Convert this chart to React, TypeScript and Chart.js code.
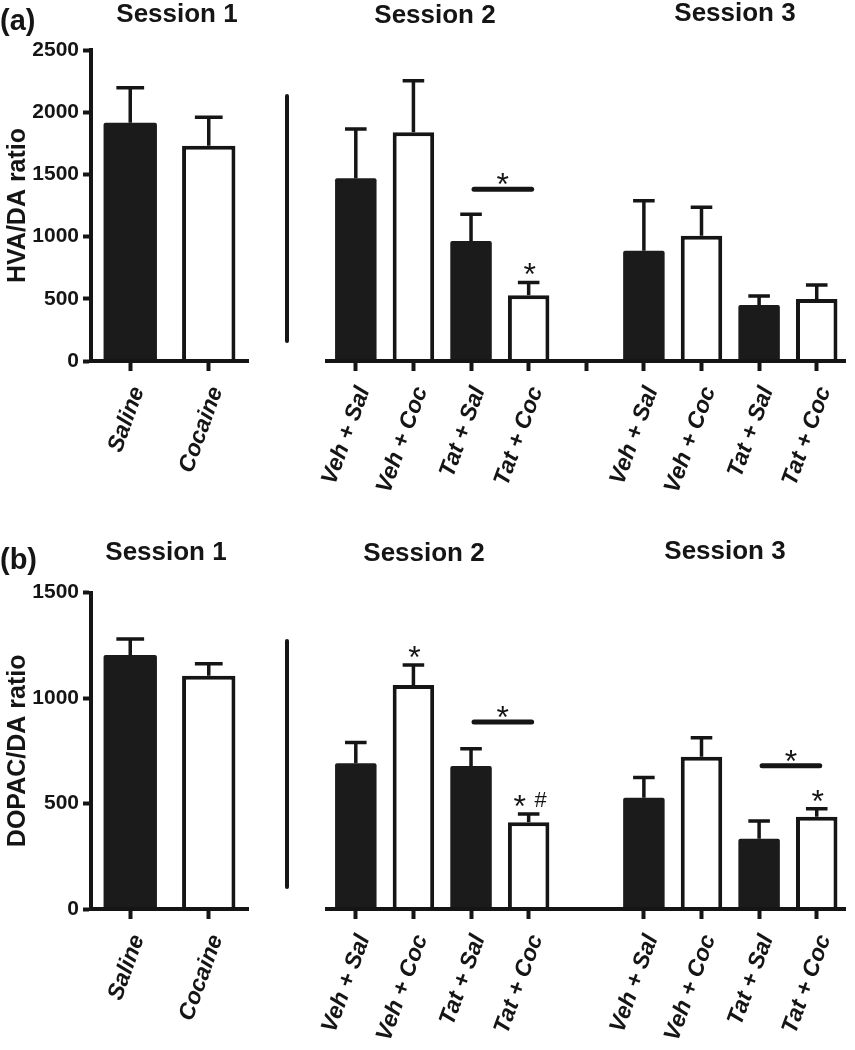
import React, { useEffect, useRef } from 'react';
import { Chart, registerables } from 'chart.js';

Chart.register(...registerables);

const FONT = '"Liberation Sans", Arial, Helvetica, sans-serif';
const INK = '#151515';
const DARK = '#1b1b1b';
const LIGHT = '#ffffff';

// ---------- data ----------
const session1Labels = ['Saline', 'Cocaine'];
const session23Labels = ['Veh + Sal', 'Veh + Coc', 'Tat + Sal', 'Tat + Coc', '', 'Veh + Sal', 'Veh + Coc', 'Tat + Sal', 'Tat + Coc'];

const hvaTicks = [0, 500, 1000, 1500, 2000, 2500];
const hvaS1Mean = [1916, 1731];
const hvaS1Sem = [281, 228];
const hvaS23Mean = [1469, 1838, 965, 528, null, 887, 1007, 450, 498];
const hvaS23Sem = [396, 415, 214, 104, null, 402, 228, 73, 113];
const hvaS23Marks = ['', '', '', '*', '', '', '', '', ''];
const hvaS23Brackets = [{ from: 2, to: 3, value: 1380, mark: '*' }];

const dopacTicks = [0, 500, 1000, 1500];
const dopacS1Mean = [1204, 1106];
const dopacS1Sem = [76, 57];
const dopacS23Mean = [691, 1062, 678, 411, null, 528, 722, 333, 438];
const dopacS23Sem = [99, 95, 82, 39, null, 96, 90, 84, 37];
const dopacS23Marks = ['', '*', '', '* #', '', '', '', '', '*'];
const dopacS23Brackets = [
  { from: 2, to: 3, value: 887, mark: '*' },
  { from: 7, to: 8, value: 679, mark: '*' },
];

// styles (fill per bar)
const session1Fill = [DARK, LIGHT];
const session23Fill = [DARK, LIGHT, DARK, LIGHT, LIGHT, DARK, LIGHT, DARK, LIGHT];

// ---------- helpers ----------
function drawGlyph(ctx: CanvasRenderingContext2D, t: string, cx: number, cy: number) {
  ctx.save();
  ctx.fillStyle = INK;
  ctx.textAlign = 'center';
  ctx.textBaseline = 'alphabetic';
  if (t === '*') {
    const fs = 32;
    ctx.font = `${fs}px ${FONT}`;
    ctx.fillText('*', cx, cy + 0.566 * fs);
  } else {
    const fs = 22;
    ctx.font = `${fs}px ${FONT}`;
    ctx.fillText(t, cx, cy + 0.35 * fs);
  }
  ctx.restore();
}

function drawMark(ctx: CanvasRenderingContext2D, text: string, cx: number, cy: number) {
  const parts = text.split(' ');
  if (parts.length === 1) {
    drawGlyph(ctx, parts[0], cx, cy);
  } else {
    drawGlyph(ctx, parts[0], cx - 10, cy);
    drawGlyph(ctx, parts[1], cx + 11, cy);
  }
}

const errorBarPlugin = {
  id: 'errorBars',
  afterDatasetsDraw(chart: any, _args: any, opts: any) {
    const ctx = chart.ctx as CanvasRenderingContext2D;
    const meta = chart.getDatasetMeta(0);
    const ys = chart.scales.y;
    const data = chart.data.datasets[0].data;
    const sems: (number | null)[] = opts.sems || [];
    meta.data.forEach((bar: any, i: number) => {
      const m = data[i];
      const s = sems[i];
      if (m == null || s == null) return;
      const p = bar.getProps(['x', 'y', 'width'], true);
      const yt = ys.getPixelForValue(m + s);
      const half = p.width * 0.26;
      ctx.save();
      ctx.strokeStyle = INK;
      ctx.lineWidth = 3.5;
      ctx.beginPath();
      ctx.moveTo(p.x, p.y);
      ctx.lineTo(p.x, yt);
      ctx.moveTo(p.x - half, yt);
      ctx.lineTo(p.x + half, yt);
      ctx.stroke();
      ctx.restore();
    });
  },
};

const sigPlugin = {
  id: 'sigMarks',
  afterDatasetsDraw(chart: any, _args: any, opts: any) {
    const ctx = chart.ctx as CanvasRenderingContext2D;
    const xs = chart.scales.x;
    const ys = chart.scales.y;
    const data = chart.data.datasets[0].data;
    const sems: (number | null)[] = opts.sems || [];
    const marks: string[] = opts.marks || [];
    const brackets: any[] = opts.brackets || [];
    brackets.forEach((b) => {
      const x1 = xs.getPixelForValue(b.from) + 3;
      const x2 = xs.getPixelForValue(b.to) + 3;
      const yy = ys.getPixelForValue(b.value);
      ctx.save();
      ctx.strokeStyle = INK;
      ctx.lineWidth = 5;
      ctx.lineCap = 'round';
      ctx.beginPath();
      ctx.moveTo(x1, yy);
      ctx.lineTo(x2, yy);
      ctx.stroke();
      ctx.restore();
      drawMark(ctx, b.mark, (x1 + x2) / 2, yy - 12);
    });
    marks.forEach((t, i) => {
      if (!t) return;
      const m = data[i];
      const s = sems[i] || 0;
      const top = ys.getPixelForValue(m + s);
      drawMark(ctx, t, xs.getPixelForValue(i) + 1, top - 15);
    });
  },
};

type Cfg = {
  labels: string[];
  means: (number | null)[];
  sems: (number | null)[];
  fills: string[];
  yTicks: number[];
  yTitle?: string;
  showY: boolean;
  marks?: string[];
  brackets?: any[];
  hiddenTicks?: number[];
  barPct: number;
  padding: { left: number; right: number; top: number; bottom: number };
  xHeight: number;
  yWidth?: number;
};

function buildConfig(c: Cfg): any {
  const yMax = c.yTicks[c.yTicks.length - 1];
  const hidden = c.hiddenTicks || [];
  return {
    type: 'bar',
    data: {
      labels: c.labels,
      datasets: [
        {
          data: c.means,
          backgroundColor: c.fills,
          borderColor: INK,
          borderWidth: c.fills.map((f, i) => (f === DARK || c.means[i] == null ? 0 : 4)),
          borderSkipped: 'start',
          borderRadius: c.fills.map((f) => (f === DARK ? 2 : 0)),
          barPercentage: c.barPct,
          categoryPercentage: 1,
        },
      ],
    },
    options: {
      responsive: false,
      animation: false,
      events: [],
      layout: { padding: c.padding },
      plugins: {
        legend: { display: false },
        tooltip: { enabled: false },
        title: { display: false },
        errorBars: { sems: c.sems },
        sigMarks: { sems: c.sems, marks: c.marks || [], brackets: c.brackets || [] },
      },
      scales: {
        x: {
          offset: true,
          grid: {
            offset: false,
            z: 1,
            drawOnChartArea: false,
            drawTicks: true,
            tickLength: 10,
            tickWidth: 4,
            tickColor: (ctx: any) => (hidden.includes(ctx.index) ? 'rgba(0,0,0,0)' : INK),
          },
          border: { display: true, width: 4, color: INK, z: 1 },
          ticks: {
            autoSkip: false,
            maxRotation: 70,
            minRotation: 70,
            padding: 12,
            labelOffset: 8,
            color: INK,
            font: { family: FONT, size: 23, weight: 'bold', style: 'italic' },
          },
          afterFit: (scale: any) => {
            scale.height = c.xHeight;
          },
        },
        y: {
          display: c.showY,
          min: 0,
          max: yMax,
          afterBuildTicks: (scale: any) => {
            scale.ticks = c.yTicks.map((v) => ({ value: v }));
          },
          grid: {
            drawOnChartArea: false,
            drawTicks: true,
            tickLength: 8,
            tickWidth: 4,
            tickColor: INK,
          },
          border: { display: true, width: 4, color: INK },
          ticks: {
            padding: 4,
            color: INK,
            font: { family: FONT, size: 21, weight: 'bold' },
            callback: (v: any) => String(v),
          },
          title: {
            display: !!c.yTitle,
            text: c.yTitle || '',
            color: INK,
            padding: { top: 3, bottom: 0 },
            font: { family: FONT, size: 25, weight: 'bold' },
          },
          afterFit: (scale: any) => {
            if (c.yWidth) scale.width = c.yWidth;
          },
        },
      },
    },
    plugins: [errorBarPlugin, sigPlugin],
  };
}

function ChartCanvas(props: { cfg: Cfg; left: number; top: number; width: number; height: number }) {
  const ref = useRef<HTMLCanvasElement | null>(null);
  useEffect(() => {
    if (!ref.current) return;
    const chart = new Chart(ref.current, buildConfig(props.cfg));
    return () => chart.destroy();
  }, []);
  return (
    <canvas
      ref={ref}
      width={props.width}
      height={props.height}
      style={{ position: 'absolute', left: props.left, top: props.top, width: props.width, height: props.height }}
    />
  );
}

function Label(props: { text: string; cx: number; cy: number; size: number; left?: boolean }) {
  return (
    <div
      style={{
        position: 'absolute',
        left: props.cx,
        top: props.cy,
        transform: props.left ? 'translate(0,-50%)' : 'translate(-50%,-50%)',
        fontFamily: FONT,
        fontWeight: 'bold',
        fontSize: props.size,
        lineHeight: 1,
        color: INK,
        whiteSpace: 'nowrap',
      }}
    >
      {props.text}
    </div>
  );
}

function Separator(props: { left: number; top: number; height: number }) {
  return (
    <div
      style={{
        position: 'absolute',
        left: props.left,
        top: props.top,
        width: 4,
        height: props.height,
        background: INK,
        borderRadius: 2,
      }}
    />
  );
}

export default function App() {
  const aLeft: Cfg = {
    labels: session1Labels,
    means: hvaS1Mean,
    sems: hvaS1Sem,
    fills: session1Fill,
    yTicks: hvaTicks,
    yTitle: 'HVA/DA ratio',
    showY: true,
    barPct: 0.68,
    padding: { left: 0, right: 12, top: 50, bottom: 0 },
    xHeight: 159,
    yWidth: 91,
  };
  const aRight: Cfg = {
    labels: session23Labels,
    means: hvaS23Mean,
    sems: hvaS23Sem,
    fills: session23Fill,
    yTicks: hvaTicks,
    showY: false,
    marks: hvaS23Marks,
    brackets: hvaS23Brackets,
    barPct: 0.72,
    padding: { left: 27, right: 6, top: 50, bottom: 0 },
    xHeight: 159,
  };
  const bLeft: Cfg = {
    labels: session1Labels,
    means: dopacS1Mean,
    sems: dopacS1Sem,
    fills: session1Fill,
    yTicks: dopacTicks,
    yTitle: 'DOPAC/DA ratio',
    showY: true,
    barPct: 0.68,
    padding: { left: 0, right: 12, top: 72.7, bottom: 0 },
    xHeight: 141,
    yWidth: 91,
  };
  const bRight: Cfg = {
    labels: session23Labels,
    means: dopacS23Mean,
    sems: dopacS23Sem,
    fills: session23Fill,
    yTicks: dopacTicks,
    showY: false,
    marks: dopacS23Marks,
    brackets: dopacS23Brackets,
    hiddenTicks: [4],
    barPct: 0.72,
    padding: { left: 27, right: 6, top: 72.7, bottom: 0 },
    xHeight: 141,
  };

  return (
    <div style={{ position: 'absolute', left: 0, top: 0, width: 855, height: 1050, background: '#fff', overflow: 'hidden' }}>
      <ChartCanvas cfg={aLeft} left={0} top={0} width={260} height={520} />
      <ChartCanvas cfg={aRight} left={300} top={0} width={555} height={520} />
      <ChartCanvas cfg={bLeft} left={0} top={520} width={260} height={530} />
      <ChartCanvas cfg={bRight} left={300} top={520} width={555} height={530} />

      <Separator left={285} top={94} height={249} />
      <Separator left={285} top={639} height={250} />

      <Label text="(a)" cx={0} cy={20} size={29} left />
      <Label text="Session 1" cx={177} cy={13} size={26} />
      <Label text="Session 2" cx={435} cy={14} size={26} />
      <Label text="Session 3" cx={735} cy={12} size={26} />

      <Label text="(b)" cx={0} cy={559} size={29} left />
      <Label text="Session 1" cx={166} cy={551} size={26} />
      <Label text="Session 2" cx={424} cy={552} size={26} />
      <Label text="Session 3" cx={725} cy={550} size={26} />
    </div>
  );
}
